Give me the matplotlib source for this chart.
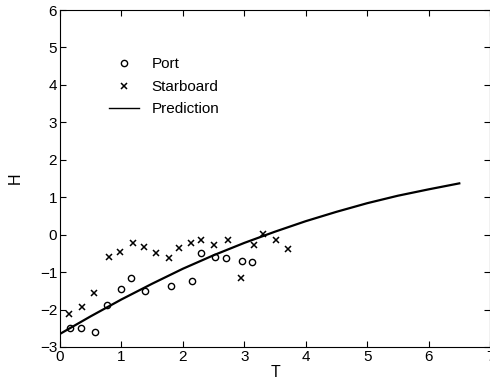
import matplotlib
matplotlib.use("Agg")
import matplotlib.pyplot as plt

plt.rcParams['font.family'] = ['Liberation Sans', 'DejaVu Sans']

# Port measurements (circles)
port_T = [0.16, 0.34, 0.57, 0.76, 1.00, 1.15, 1.39, 1.80, 2.15, 2.29, 2.52, 2.71, 2.96, 3.13]
port_H = [-2.48, -2.48, -2.61, -1.88, -1.45, -1.16, -1.50, -1.37, -1.25, -0.50, -0.59, -0.62, -0.70, -0.72]

# Starboard measurements (crosses)
stbd_T = [0.15, 0.35, 0.55, 0.79, 0.98, 1.19, 1.37, 1.57, 1.77, 1.93, 2.13, 2.30, 2.50,
          2.73, 2.94, 3.15, 3.31, 3.52, 3.71]
stbd_H = [-2.13, -1.94, -1.57, -0.59, -0.46, -0.22, -0.32, -0.48, -0.61, -0.35, -0.21, -0.15, -0.28,
          -0.15, -1.15, -0.28, 0.01, -0.15, -0.39]

# prediction curve
pred_T = [0.0, 0.5, 1.0, 1.5, 2.0, 2.5, 3.0, 3.5, 4.0, 4.5, 5.0, 5.5, 6.0, 6.5]
pred_H = [-2.65, -2.18, -1.73, -1.31, -0.91, -0.55, -0.22, 0.08, 0.36, 0.61, 0.84, 1.04, 1.21, 1.37]

fig = plt.figure(figsize=(4.9, 3.88), dpi=100)
ax = fig.add_axes([60 / 490, 41 / 388, 430 / 490, 337 / 388])

ax.plot(port_T, port_H, 'o', mfc='none', mec='black', ms=4.5, mew=1.0, label='Port')
ax.plot(stbd_T, stbd_H, 'x', color='black', ms=5, mew=1.1, label='Starboard')
ax.plot(pred_T, pred_H, '-', color='black', lw=1.6, label='Prediction')

ax.set_xlim(0, 7)
ax.set_ylim(-3, 6)
ax.set_xticks(range(0, 8))
ax.set_yticks(range(-3, 7))
ax.tick_params(direction='in', top=True, right=True, labelsize=11, length=4, pad=2)
ax.set_xlabel('T', fontsize=11.5, labelpad=1)
ax.set_ylabel('H', fontsize=11.5, labelpad=12)

leg = ax.legend(loc='upper left', bbox_to_anchor=(0.083, 0.90), frameon=False, fontsize=11,
                handlelength=1.96, handletextpad=0.8, labelspacing=0.55)
leg.get_lines()[2].set_linewidth(1.0)

fig.savefig('out.png', dpi=100)
